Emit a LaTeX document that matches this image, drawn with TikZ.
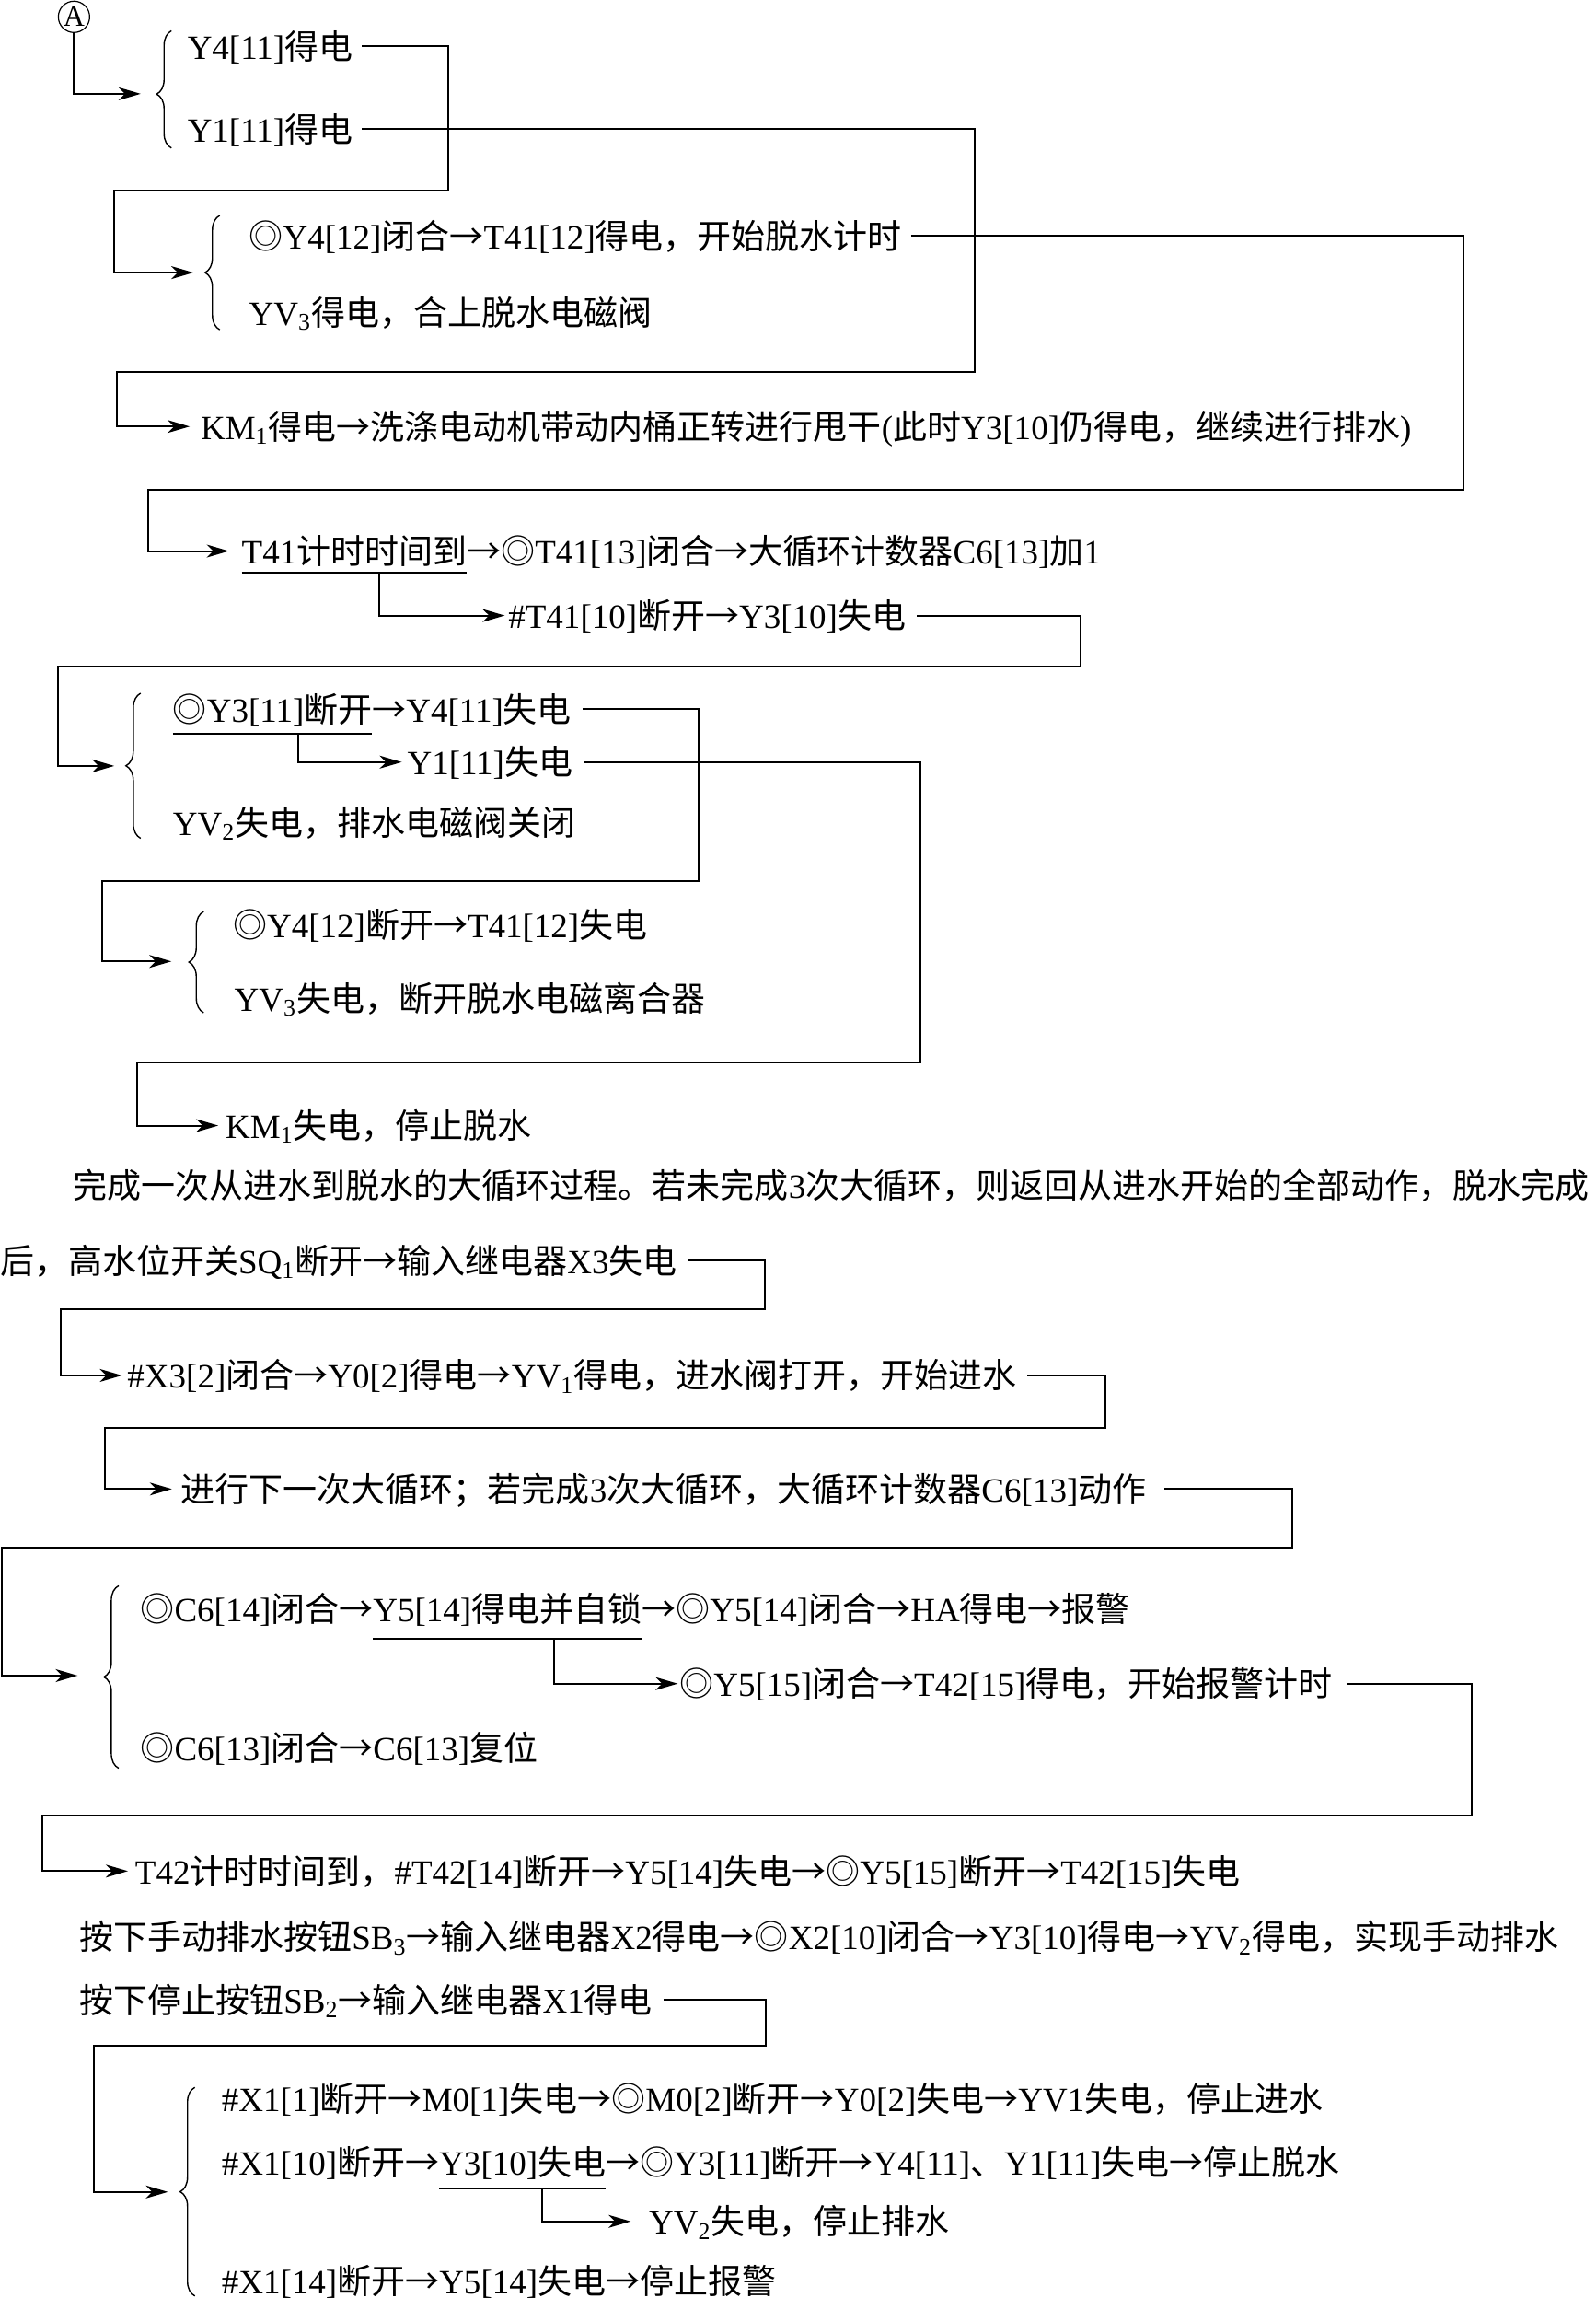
\documentclass[tikz,border=0pt]{standalone}
\usepackage{fontspec}
\setmainfont{Liberation Serif}
\newfontfamily\cjkfont{Noto Sans CJK SC}
\usetikzlibrary{arrows.meta,decorations.pathreplacing}
\XeTeXinterchartokenstate=1
\chardef\cjkcls=250
\newcount\cjkcnt
\cjkcnt="3000
\loop\ifnum\cjkcnt<"A000 \XeTeXcharclass\cjkcnt=\cjkcls\relax\advance\cjkcnt by 1 \repeat
\cjkcnt="FF00
\loop\ifnum\cjkcnt<"FFF0 \XeTeXcharclass\cjkcnt=\cjkcls\relax\advance\cjkcnt by 1 \repeat
\XeTeXcharclass"25CE=\cjkcls
\XeTeXcharclass"2192=\cjkcls
\XeTeXinterchartoks 0 \cjkcls={\begingroup\cjkfont}
\XeTeXinterchartoks 4095 \cjkcls={\begingroup\cjkfont}
\XeTeXinterchartoks \cjkcls 0={\endgroup}
\XeTeXinterchartoks \cjkcls 4095={\endgroup}
\tikzset{
  txt/.style={anchor=west, inner sep=0pt, outer sep=0pt,
    font=\fontsize{18.5}{22}\selectfont, text height=16.6pt, text depth=2.6pt},
  conn/.style={line width=1pt},
  arr/.style={conn, -{Stealth[length=12pt,width=7pt,inset=3.5pt]}},
  brc/.style={decorate, decoration={brace, amplitude=8pt, aspect=#1}, line width=0.7pt},
  brc/.default=0.5,
  uline/.style={line width=1pt},
}
\begin{document}
\begin{tikzpicture}[x=0.7957pt,y=-0.7957pt]
\fill[white] (0,0) rectangle (1089,1568);
\useasboundingbox (0,0) rectangle (1089,1568);

% ---- section 1
\node[circle,draw,line width=0.6pt,inner sep=0pt,minimum size=17pt,font=\fontsize{16}{16}\selectfont] (A) at (50.5,11.5) {A};
\node[txt] (y4on) at (128,31.5) {Y4[11]得电};
\node[txt] (y1on) at (128,88) {Y1[11]得电};
\draw[brc=0.46] (117,101) -- (117,21);
\coordinate (b1) at (96,64);
\draw[arr] (A.south) |- (b1);

\node[txt] (t2a) at (170,161) {◎Y4[12]闭合→T41[12]得电，开始脱水计时};
\node[txt] (t2b) at (170,213) {YV\textsubscript{3}得电，合上脱水电磁阀};
\draw[brc] (150,225) -- (150,147);
\coordinate (b2) at (132,186);
\draw[arr] ([xshift=5pt]y4on.east) -| (306,130) -| (78,186) -- (b2);

\node[txt] (km1) at (137,291) {KM\textsubscript{1}得电→洗涤电动机带动内桶正转进行甩干(此时Y3[10]仍得电，继续进行排水)};
\draw[arr] ([xshift=5pt]y1on.east) -| (665,254) -| (80,291) -- ([xshift=-6pt]km1.west);

\node[txt] (t41a) at (165,376) {T41计时时间到};
\node[txt] (t41b) at (t41a.east) {→◎T41[13]闭合→大循环计数器C6[13]加1};
\draw[arr] ([xshift=5pt]t2a.east) -| (999,334) -| (101,376) -- ([xshift=-7pt]t41a.west);
\draw[uline] ([yshift=-2pt]t41a.south west) -- ([yshift=-2pt]t41a.south east) node[coordinate,pos=0.61] (d1) {};
\node[txt] (t41c) at (347,420) {\#T41[10]断开→Y3[10]失电};
\draw[arr] (d1) |- ([xshift=-2pt]t41c.west);

% ---- section 3
\coordinate (b3) at (78,522.6);
\draw[arr] ([xshift=6pt]t41c.east) -| (737.4,454.6) -| (39.6,522.6) -- (b3);
\draw[brc] (96,572) -- (96,473);
\node[txt] (t3a) at (118,484) {◎Y3[11]断开};
\node[txt] (t3b) at (t3a.east) {→Y4[11]失电};
\draw[uline] ([yshift=-3.5pt]t3a.south west) -- ([yshift=-3.5pt]t3a.south east) node[coordinate,pos=0.63] (d3) {};
\node[txt] (t3c) at (278,520) {Y1[11]失电};
\draw[arr] (d3) |- ([xshift=-3pt]t3c.west);
\node[txt] (t3d) at (118,561) {YV\textsubscript{2}失电，排水电磁阀关闭};

% ---- section 4
\coordinate (b4) at (117,656);
\draw[arr] ([xshift=6pt]t3b.east) -| (477,601) -| (69.5,656) -- (b4);
\draw[brc] (139,691) -- (139,622);
\node[txt] (t4a) at (159,631) {◎Y4[12]断开→T41[12]失电};
\node[txt] (t4b) at (160,681) {YV\textsubscript{3}失电，断开脱水电磁离合器};
\node[txt] (t4c) at (154,768) {KM\textsubscript{1}失电，停止脱水};
\draw[arr] ([xshift=6pt]t3c.east) -| (628.5,725) -| (93.8,768) -- ([xshift=-4pt]t4c.west);

% ---- paragraph
\node[txt] (p1) at (50,808.6) {完成一次从进水到脱水的大循环过程。若未完成3次大循环，则返回从进水开始的全部动作，脱水完成};
\node[txt] (p2) at (0,860) {后，高水位开关SQ\textsubscript{1}断开→输入继电器X3失电};
\node[txt] (t5) at (87,938.5) {\#X3[2]闭合→Y0[2]得电→YV\textsubscript{1}得电，进水阀打开，开始进水};
\draw[arr] ([xshift=6pt]p2.east) -| (522,893) -| (41.7,938.5) -- ([xshift=-3pt]t5.west);
\node[txt] (t6) at (123.6,1016) {进行下一次大循环；若完成3次大循环，大循环计数器C6[13]动作};
\draw[arr] ([xshift=6pt]t5.east) -| (754.7,974.6) -| (71.5,1016) -- ([xshift=-5pt]t6.west);

% ---- section 5
\coordinate (b5) at (53,1143.3);
\draw[arr] ([xshift=10pt]t6.east) -| (881.7,1055.7) -| (1,1143.3) -- (b5);
\draw[brc] (81,1206.5) -- (81,1082);
\node[txt] (t7a) at (95.8,1097.6) {◎C6[14]闭合→};
\node[txt] (t7b) at (t7a.east) {Y5[14]得电并自锁};
\node[txt] (t7c) at (t7b.east) {→◎Y5[14]闭合→HA得电→报警};
\draw[uline] ([yshift=-7pt]t7b.south west) -- ([yshift=-7pt]t7b.south east) node[coordinate,pos=0.675] (d5) {};
\node[txt] (t7d) at (463.8,1148.8) {◎Y5[15]闭合→T42[15]得电，开始报警计时};
\draw[arr] (d5) |- ([xshift=-1pt]t7d.west);
\node[txt] (t7e) at (95.8,1192.8) {◎C6[13]闭合→C6[13]复位};
\node[txt] (t8) at (92.3,1276.7) {T42计时时间到，\#T42[14]断开→Y5[14]失电→◎Y5[15]断开→T42[15]失电};
\draw[arr] ([xshift=8pt]t7d.east) -| (1004.7,1239) -| (29.2,1276.7) -- ([xshift=-4pt]t8.west);

% ---- manual drain / stop
\node[txt] (t9) at (54.2,1321.7) {按下手动排水按钮SB\textsubscript{3}→输入继电器X2得电→◎X2[10]闭合→Y3[10]得电→YV\textsubscript{2}得电，实现手动排水};
\node[txt] (t10) at (54.2,1364.6) {按下停止按钮SB\textsubscript{2}→输入继电器X1得电};
\coordinate (b6) at (114.6,1495.6);
\draw[arr] ([xshift=6pt]t10.east) -| (522.8,1396) -| (63.9,1495.6) -- (b6);
\draw[brc] (133,1566.6) -- (133,1424.3);
\node[txt] (t11a) at (151.3,1431.7) {\#X1[1]断开→M0[1]失电→◎M0[2]断开→Y0[2]失电→YV1失电，停止进水};
\node[txt] (t11b) at (151.3,1475.6) {\#X1[10]断开→};
\node[txt] (t11c) at (t11b.east) {Y3[10]失电};
\node[txt] (t11d) at (t11c.east) {→◎Y3[11]断开→Y4[11]、Y1[11]失电→停止脱水};
\draw[uline] ([yshift=-4.5pt]t11c.south west) -- ([yshift=-4.5pt]t11c.south east) node[coordinate,pos=0.62] (d6) {};
\node[txt] (t11e) at (443,1515.7) {YV\textsubscript{2}失电，停止排水};
\draw[arr] (d6) |- ([xshift=-10pt]t11e.west);
\node[txt] (t11f) at (151.3,1556.3) {\#X1[14]断开→Y5[14]失电→停止报警};
\end{tikzpicture}
\end{document}
